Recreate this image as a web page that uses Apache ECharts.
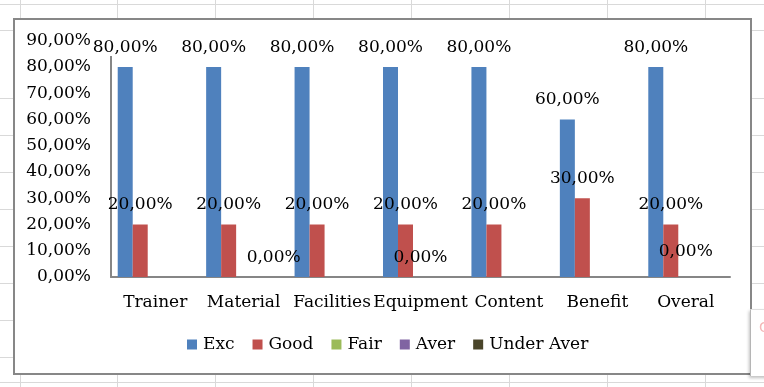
<!DOCTYPE html>
<html>
<head>
<meta charset="utf-8">
<script src="https://cdn.jsdelivr.net/npm/echarts@6/dist/echarts.min.js"></script>
<style>
  html, body { margin: 0; padding: 0; }
  body { width: 764px; height: 387px; position: relative; overflow: hidden; background: #fff; }
  .sheet { position: absolute; left: 0; top: 0; width: 764px; height: 387px; }
  .hl { position: absolute; left: 0; width: 764px; height: 1px; background: #d9d9d9; }
  .vl { position: absolute; top: 0; height: 387px; width: 1px; background: #d9d9d9; }
  .box { position: absolute; left: 13px; top: 18px; width: 739px; height: 357px; box-sizing: border-box;
         border: 2px solid #878787; background: #fff; }
  .obj { position: absolute; left: 750px; top: 309px; width: 30px; height: 66px; background: #fff;
         border-left: 1px solid #b5b5b5; border-top: 1px solid #e0e0e0; box-shadow: -1px 2px 3px rgba(0,0,0,0.25); z-index: 5; }
  .obj span { position: absolute; left: 8px; top: 9px; font: 14px "DejaVu Sans"; color: #f4b8b8; }
  #chart { position: absolute; left: 0; top: 0; width: 764px; height: 387px; z-index: 3; }
</style>
</head>
<body>
<div class="sheet">
  <div class="hl" style="top:4px"></div>
  <div class="hl" style="top:30px"></div>
  <div class="hl" style="top:98px"></div>
  <div class="hl" style="top:135px"></div>
  <div class="hl" style="top:172px"></div>
  <div class="hl" style="top:209px"></div>
  <div class="hl" style="top:246px"></div>
  <div class="hl" style="top:283px"></div>
  <div class="hl" style="top:320px"></div>
  <div class="hl" style="top:357px"></div>
  <div class="hl" style="top:382px"></div>
  <div class="vl" style="left:20px"></div>
  <div class="vl" style="left:117px"></div>
  <div class="vl" style="left:215px"></div>
  <div class="vl" style="left:313px"></div>
  <div class="vl" style="left:411px"></div>
  <div class="vl" style="left:509px"></div>
  <div class="vl" style="left:607px"></div>
  <div class="vl" style="left:705px"></div>
</div>
<div class="box"></div>
<div id="chart"></div>
<div class="obj"><span>G</span></div>
<script>
// ---- data ----
const categories = ['Trainer', 'Material', 'Facilities', 'Equipment', 'Content', 'Benefit', 'Overal'];
const seriesNames = ['Exc', 'Good', 'Fair', 'Aver', 'Under Aver'];
const exc       = [0.8, 0.8, 0.8, 0.8, 0.8, 0.6, 0.8];
const good      = [0.2, 0.2, 0.2, 0.2, 0.2, 0.3, 0.2];
const fair      = [0, 0, 0, 0, 0, 0, 0];
const aver      = [0, 0, 0, 0, 0, 0, 0];
const underAver = [0, 0, 0, 0, 0, 0, 0];
// which data labels are visible per series
const excLabels       = [true, true, true, true, true, true, true];
const goodLabels      = [true, true, true, true, true, true, true];
const fairLabels      = [false, false, false, true, false, false, true];
const averLabels      = [false, false, false, false, false, false, false];
const underAverLabels = [false, true, false, false, false, false, false];
const yMin = 0, yMax = 0.9, yStep = 0.1;

// ---- styling ----
const FONT = 'DejaVu Serif';
const colors = ['#4F81BD', '#C0504D', '#9BBB59', '#8064A2', '#4A452A'];
const fmt = v => (v * 100).toFixed(2).replace('.', ',') + '%';

const values = [exc, good, fair, aver, underAver];
const labelFlags = [excLabels, goodLabels, fairLabels, averLabels, underAverLabels];

const series = seriesNames.map((name, si) => ({
  name: name,
  type: 'bar',
  barWidth: 15,
  barGap: '0%',
  itemStyle: { color: colors[si] },
  label: {
    show: true,
    position: 'top',
    distance: 11,
    fontFamily: FONT,
    fontSize: 17,
    color: '#000',
    formatter: p => fmt(p.value),
    backgroundColor: si === 0 ? '#fff' : 'transparent'
  },
  data: values[si].map((v, i) => {
    const item = { value: v, label: { show: labelFlags[si][i] } };
    if (si === 2 && categories[i] === 'Overal') item.label.offset = [0, -6];
    return item;
  })
}));

const chart = echarts.init(document.getElementById('chart'), null, { renderer: 'canvas' });
chart.setOption({
  backgroundColor: 'transparent',
  animation: false,
  color: colors,
  grid: { left: 111, right: 34, top: 40.75, bottom: 110, containLabel: false },
  legend: {
    data: seriesNames,
    left: 187,
    top: 336,
    padding: 0,
    itemGap: 18,
    itemWidth: 10,
    itemHeight: 10,
    icon: 'rect',
    textStyle: { fontFamily: FONT, fontSize: 17, color: '#000', padding: [0, 0, 0, 1] }
  },
  xAxis: {
    type: 'category',
    data: categories,
    axisLine: { show: true, lineStyle: { color: '#868686', width: 2 } },
    axisTick: { show: false },
    axisLabel: { interval: 0, margin: 17, fontFamily: FONT, fontSize: 17, color: '#000' }
  },
  yAxis: {
    type: 'value',
    min: yMin,
    max: yMax,
    interval: yStep,
    axisLine: { show: true, lineStyle: { color: '#868686', width: 2 } },
    axisTick: { show: false },
    splitLine: { show: false },
    axisLabel: { margin: 20, fontFamily: FONT, fontSize: 17, color: '#000', formatter: v => fmt(v) }
  },
  series: series
});
</script>
</body>
</html>
